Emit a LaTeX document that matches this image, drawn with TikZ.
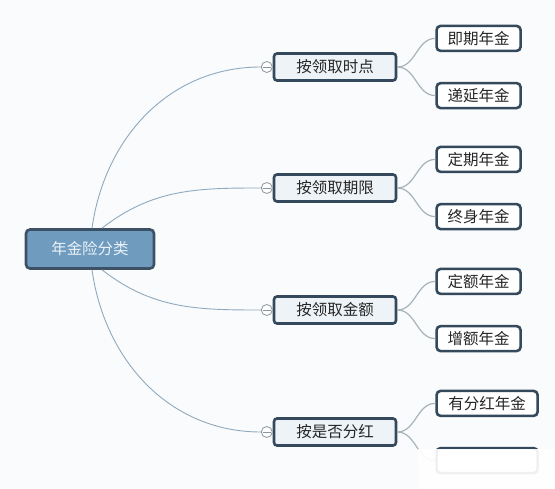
\documentclass[tikz,border=0pt]{standalone}
\usepackage{fontspec}
\newfontfamily\cjk{Noto Sans CJK SC}
\usepackage{xcolor}
\usetikzlibrary{positioning}

\definecolor{bgc}{HTML}{FAFBFC}
\definecolor{rootfill}{HTML}{6F9BBF}
\definecolor{rootline}{HTML}{3D5166}
\definecolor{roottext}{HTML}{EAF2F8}
\definecolor{boxline}{HTML}{34495B}
\definecolor{topicfill}{HTML}{EEF3F7}
\definecolor{mainbranch}{HTML}{8FA9BF}
\definecolor{subbranch}{HTML}{A7B3BA}
\definecolor{foldline}{HTML}{8A969E}

\begin{document}
\begin{tikzpicture}[
    x=1pt, y=-1pt,
    node distance=0pt and 38pt,
    every node/.style={font=\cjk\fontsize{15.5}{18}\selectfont, text=black!85, inner sep=0pt},
    root/.style={rectangle, draw=rootline, line width=2.6pt, rounded corners=4pt, fill=rootfill, text=roottext, minimum width=128pt, minimum height=39pt},
    topic/.style={rectangle, draw=boxline, line width=2.6pt, rounded corners=3pt, fill=topicfill, minimum width=122pt, minimum height=27pt},
    sub/.style={rectangle, draw=boxline, line width=2.6pt, rounded corners=4pt, fill=white, minimum width=84pt, minimum height=25pt},
    fold/.style={circle, draw=foldline, line width=0.8pt, fill=white, minimum size=11pt,
      path picture={\draw[foldline, line width=0.8pt] ([xshift=-4pt]path picture bounding box.center) -- ([xshift=4pt]path picture bounding box.center);}},
    branch/.style={draw=mainbranch, line width=0.9pt},
    twig/.style={draw=subbranch, line width=1.2pt}
  ]

  \fill[bgc] (0,0) rectangle (555,489);
  \useasboundingbox (0,0) rectangle (555,489);

  \node[root] (root) at (90,249) {年金险分类};

  \node[topic] (t1) at (335,67) {按领取时点};
  \node[topic] (t2) at (335,188) {按领取期限};
  \node[topic] (t3) at (335,310) {按领取金额};
  \node[topic] (t4) at (335,432) {按是否分红};

  \node[fold, left=0pt of t1] (f1) {};
  \node[fold, left=0pt of t2] (f2) {};
  \node[fold, left=0pt of t3] (f3) {};
  \node[fold, left=0pt of t4] (f4) {};

  % main branches
  \draw[branch] ([xshift=2pt]root.north) to[out=82, in=180] (f1.west);
  \draw[branch] ([xshift=12pt]root.north) to[out=38, in=180] (f2.west);
  \draw[branch] ([xshift=12pt]root.south) to[out=-38, in=180] (f3.west);
  \draw[branch] ([xshift=2pt]root.south) to[out=-82, in=180] (f4.west);

  % leaves
  \node[sub, above right=0pt and 38pt of t1] (s1) {即期年金};
  \node[sub, below right=0pt and 38pt of t1] (s2) {递延年金};
  \node[sub, above right=0pt and 38pt of t2] (s3) {定期年金};
  \node[sub, below right=0pt and 38pt of t2] (s4) {终身年金};
  \node[sub, above right=0pt and 38pt of t3] (s5) {定额年金};
  \node[sub, below right=0pt and 38pt of t3] (s6) {增额年金};
  \node[sub, above right=0pt and 38pt of t4, minimum width=101pt] (s7) {有分红年金};
  \node[sub, below right=0pt and 38pt of t4, minimum width=101pt] (s8) {};

  \foreach \t/\a/\b in {t1/s1/s2, t2/s3/s4, t3/s5/s6, t4/s7/s8} {
    \draw[twig] (\t.east) to[out=0, in=180] (\a.west);
    \draw[twig] (\t.east) to[out=0, in=180] (\b.west);
  }

  % faded corner
  \fill[white, opacity=0.92] (418,449.5) rectangle (555,489);
\end{tikzpicture}
\end{document}
